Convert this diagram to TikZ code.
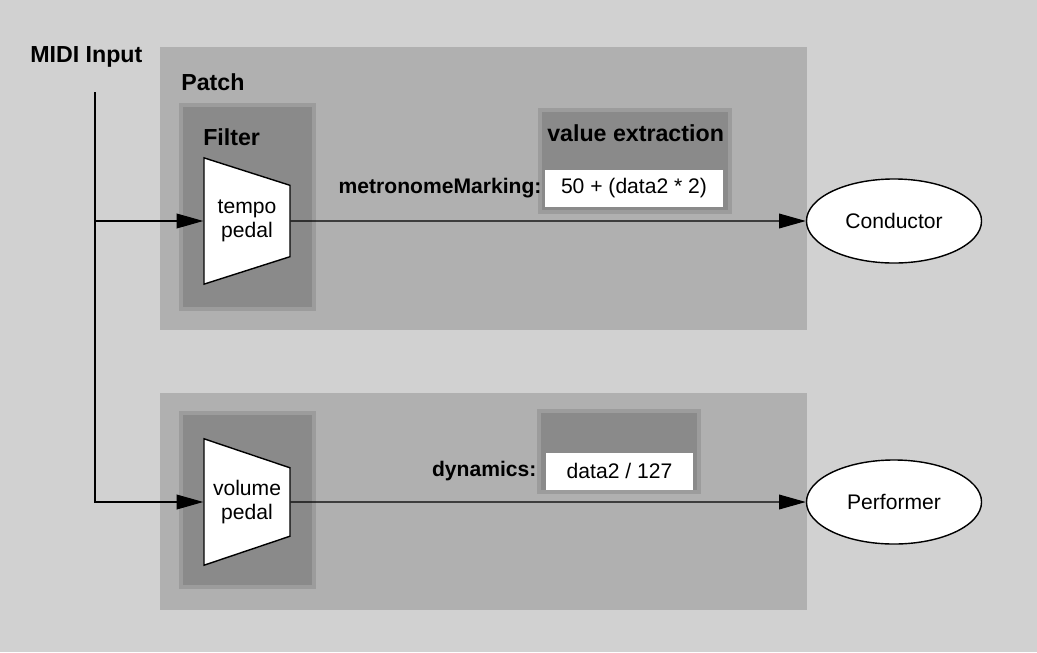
\documentclass[tikz,border=0pt]{standalone}
\usepackage{fontspec}
\setmainfont{Liberation Sans}
\usetikzlibrary{arrows.meta, positioning, shapes.geometric, calc}
\newcommand{\darkpanel}[2]{
    \fill[black!39] ($(#1)+(-4,-4)$) rectangle ($(#2)+(4,4)$);
    \fill[black!46] (#1) rectangle (#2);
}

\begin{document}
\begin{tikzpicture}[x=0.025cm, y=-0.025cm,
    pedal/.style={trapezium, shape border rotate=270, trapezium left angle=73.8, trapezium right angle=73.8,
        trapezium stretches=true, minimum width=3.175cm, minimum height=2.15cm,
        draw, line width=1pt, fill=white, align=center, font=\fontsize{15}{17}\selectfont},
    target/.style={ellipse, draw, line width=1pt, fill=white, minimum width=4.375cm, minimum height=2.1cm,
        font=\fontsize{15}{17}\selectfont},
    valbox/.style={fill=white, minimum height=0.925cm, inner sep=0pt, font=\fontsize{15}{17}\selectfont},
    head/.style={font=\fontsize{16.5}{18}\selectfont\bfseries, inner sep=0pt},
    fieldname/.style={font=\fontsize{15}{17}\selectfont\bfseries, inner sep=0pt},
    signal/.style={-{Triangle[length=19pt, width=10.5pt]}, line width=0.8pt}
]

% Background, fixes the size of the picture
\fill[black!18] (0,0) rectangle (1037,652);

% Patch areas
\fill[black!31] (160,47) rectangle (807,330);
\fill[black!31] (160,393) rectangle (807,610);

% Filter areas
\darkpanel{183,107}{312,307}
\darkpanel{183,415}{312,585}

% Value extraction areas
\darkpanel{542,112}{728,210}
\darkpanel{541,413}{697,490}

% Headings
\node[head, anchor=west] (midi) at (30,57) {MIDI Input};
\node[head, anchor=west] (patch) at (181,82) {Patch};
\node[head, anchor=west] (filter) at (203,137) {Filter};
\node[head, anchor=west] (extract) at (547,133) {value extraction};

% Filters
\node[pedal] (tempo) at (247,221) {tempo\\pedal};
\node[pedal] (volume) at (247,502) {volume\\pedal};

% Receivers
\node[target] (conductor) at (894,221) {Conductor};
\node[target] (performer) at (894,502) {Performer};

% Extracted values
\node[valbox, minimum width=4.45cm] (metroval) at (634,188.5) {50 + (data2 * 2)};
\node[fieldname, left=0.075cm of metroval] (metro) {metronomeMarking:};
\node[valbox, minimum width=3.675cm] (dynval) at (619.5,471) {data2 / 127};
\node[fieldname, left=0.225cm of dynval] (dyn) {dynamics:};

% MIDI input to the filters
\coordinate (inTop) at (95,92);
\draw[signal, line width=1pt] (inTop) |- (volume.west);
\draw[signal, line width=1pt] (inTop |- tempo.west) -- (tempo.west);

% Filters to receivers
\draw[signal] (tempo.east) -- (conductor.west);
\draw[signal] (volume.east) -- (performer.west);

\end{tikzpicture}
\end{document}
